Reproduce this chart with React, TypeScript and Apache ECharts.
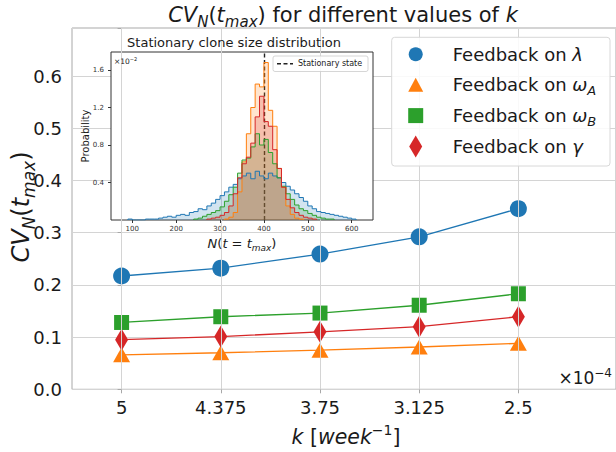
import React, { useEffect, useRef } from 'react';
import * as echarts from 'echarts';

const FONT = 'DejaVu Sans';

// Main chart data
const kLabels = ['5', '4.375', '3.75', '3.125', '2.5'];
const cvLambda = [0.217, 0.232, 0.259, 0.292, 0.346];
const cvOmegaA = [0.066, 0.07, 0.075, 0.081, 0.088];
const cvOmegaB = [0.128, 0.139, 0.146, 0.161, 0.183];
const cvGamma = [0.095, 0.101, 0.11, 0.12, 0.139];

// Inset histogram data (probability ×10^-2), bins of N
const histEdges = [
  80, 90, 100, 110, 120, 130, 140, 150, 160, 170, 180, 190, 200, 210, 220, 230, 240, 250, 260, 270,
  280, 290, 300, 310, 320, 330, 340, 350, 360, 370, 380, 390, 400, 410, 420, 430, 440, 450, 460, 470,
  480, 490, 500, 510, 520, 530, 540, 550, 560, 570, 580, 590, 600, 610, 620,
];
const histLambda = [
  0, 0.01, 0, 0, 0, 0.01, 0.01, 0.01, 0.02, 0.03,
  0.04, 0.03, 0.05, 0.06, 0.05, 0.08, 0.09, 0.12, 0.11, 0.15,
  0.18, 0.22, 0.26, 0.3, 0.35, 0.38, 0.44, 0.47, 0.5, 0.44,
  0.52, 0.47, 0.44, 0.5, 0.47, 0.45, 0.4, 0.36, 0.32, 0.28,
  0.24, 0.2, 0.15, 0.12, 0.09, 0.08, 0.07, 0.06, 0.05, 0.04,
  0.03, 0.02, 0.01, 0,
];
const histOmegaA = [
  0, 0, 0, 0, 0, 0, 0, 0, 0, 0,
  0, 0, 0, 0, 0, 0, 0, 0, 0, 0,
  0, 0, 0, 0.01, 0.03, 0.08, 0.3, 0.62, 0.92, 1.2,
  1.45, 1.42, 1.68, 1.17, 1.0, 0.55, 0.35, 0.15, 0.06, 0.02,
  0.01, 0, 0, 0, 0, 0, 0, 0, 0, 0,
  0, 0, 0, 0,
];
const histOmegaB = [
  0, 0, 0, 0, 0, 0, 0, 0, 0, 0,
  0, 0, 0, 0, 0, 0, 0.01, 0.02, 0.04, 0.06,
  0.08, 0.1, 0.14, 0.2, 0.27, 0.35, 0.5, 0.64, 0.66, 0.78,
  0.92, 0.8, 0.86, 0.72, 0.6, 0.45, 0.36, 0.28, 0.22, 0.16,
  0.12, 0.1, 0.07, 0.05, 0.03, 0.02, 0.01, 0.01, 0, 0,
  0, 0, 0, 0,
];
const histGamma = [
  0, 0, 0, 0, 0, 0, 0, 0, 0, 0,
  0, 0, 0, 0, 0, 0, 0, 0, 0, 0.01,
  0.02, 0.03, 0.05, 0.08, 0.15, 0.28, 0.45, 0.6, 0.67, 0.82,
  1.1, 1.32, 1.05, 1.0, 0.75, 0.55, 0.35, 0.22, 0.13, 0.08,
  0.05, 0.03, 0.02, 0.01, 0, 0, 0, 0, 0, 0,
  0, 0, 0, 0,
];
const insetXTicks = [100, 200, 300, 400, 500, 600];
const insetYTicks = [0.4, 0.8, 1.2, 1.6];
const stationaryState = 400;

const COLORS = ['#1f77b4', '#ff7f0e', '#2ca02c', '#d62728'];
const TXT = '#1a1a1a';

function stepPoints(edges: number[], vals: number[]) {
  let a = 0;
  while (a < vals.length && vals[a] === 0) a++;
  let b = vals.length - 1;
  while (b > a && vals[b] === 0) b--;
  const pts: number[][] = [[edges[a], 0]];
  for (let i = a; i <= b; i++) pts.push([edges[i], vals[i]]);
  pts.push([edges[b + 1], vals[b]]);
  pts.push([edges[b + 1], 0]);
  return pts;
}

function rich(size: number, color = TXT) {
  const lh = Math.round(size * 1.35);
  const sub = Math.round(size * 0.7);
  return {
    n: { fontSize: size, fontFamily: FONT, fill: color, color, lineHeight: lh, verticalAlign: 'middle' },
    i: { fontSize: size, fontFamily: FONT, fill: color, color, lineHeight: lh, verticalAlign: 'middle', fontStyle: 'italic' },
    sub: { fontSize: sub, fontFamily: FONT, fill: color, color, fontStyle: 'italic', verticalAlign: 'bottom' },
    sup: { fontSize: sub, fontFamily: FONT, fill: color, color, verticalAlign: 'top' },
  };
}

function txt(x: number, y: number, text: string, size: number, opts: any = {}) {
  return {
    type: 'text',
    x,
    y,
    rotation: opts.rotation || 0,
    z: 20,
    silent: true,
    style: {
      text,
      rich: rich(size, opts.color || TXT),
      fontSize: size,
      fontFamily: FONT,
      fill: opts.color || TXT,
      align: opts.align || 'center',
      verticalAlign: 'middle',
    },
  };
}

export default function App() {
  const ref = useRef<HTMLDivElement>(null);

  useEffect(() => {
    document.body.style.margin = '0';
    if (!ref.current) return;
    const chart = echarts.init(ref.current, undefined, { renderer: 'svg' });
    const kIdx = kLabels.map((_, i) => i);
    const pairs = (vals: number[]) => vals.map((v, i) => [kIdx[i], v]);

    const mainSeries = [
      { name: 'λ', data: cvLambda, symbol: 'circle', symbolSize: 17 },
      { name: 'ωA', data: cvOmegaA, symbol: 'triangle', symbolSize: [17, 15] },
      { name: 'ωB', data: cvOmegaB, symbol: 'rect', symbolSize: 15 },
      { name: 'γ', data: cvGamma, symbol: 'diamond', symbolSize: [13, 22] },
    ].map((s, i) => ({
      type: 'line',
      name: s.name,
      xAxisIndex: 0,
      yAxisIndex: 0,
      data: pairs(s.data),
      symbol: s.symbol,
      symbolSize: s.symbolSize,
      showSymbol: true,
      color: COLORS[i],
      itemStyle: { color: COLORS[i] },
      lineStyle: { color: COLORS[i], width: 1.3 },
      z: 2,
      silent: true,
    }));

    const hists = [histLambda, histOmegaA, histOmegaB, histGamma].map((h, i) => ({
      type: 'line',
      xAxisIndex: 1,
      yAxisIndex: 1,
      data: stepPoints(histEdges, h),
      step: 'end',
      symbol: 'none',
      lineStyle: { color: COLORS[i], width: 1 },
      areaStyle: { color: COLORS[i], opacity: 0.2 },
      z: 5,
      silent: true,
      ...(i === 3
        ? {
            markLine: {
              silent: true,
              symbol: 'none',
              label: { show: false },
              lineStyle: { color: '#222', type: [4, 2.5], width: 1.4 },
              data: [{ xAxis: stationaryState }],
            },
          }
        : {}),
    }));

    const legendRows = [
      '{n|Feedback on }{i|λ}',
      '{n|Feedback on }{i|ω}{sub|A}',
      '{n|Feedback on }{i|ω}{sub|B}',
      '{n|Feedback on }{i|γ}',
    ];
    const lx = 415.7;
    const ly = [54.3, 84.8, 115.6, 146.5];

    const option: any = {
      animation: false,
      backgroundColor: '#ffffff',
      grid: [
        { left: 72, top: 28, right: -2, bottom: 62.7, show: true, borderColor: '#a8a8a8', borderWidth: 1, backgroundColor: 'transparent', z: 0 },
        { left: 111, top: 52, width: 262, height: 168, show: true, borderColor: '#333', borderWidth: 1, backgroundColor: '#ffffff', z: 3 },
      ],
      xAxis: [
        {
          gridIndex: 0,
          type: 'value',
          min: -0.5,
          max: 4.984,
          splitLine: { show: false },
          axisLine: { show: false },
          axisTick: { show: true, customValues: kIdx, length: 4, lineStyle: { color: '#a8a8a8' } },
          axisLabel: {
            customValues: kIdx,
            formatter: (v: number) => kLabels[Math.round(v)],
            fontSize: 18,
            fontFamily: FONT,
            color: TXT,
            margin: 9,
          },
        },
        {
          gridIndex: 1,
          type: 'value',
          min: 51.5,
          max: 648.6,
          z: 4,
          splitLine: { show: false },
          axisLine: { show: false },
          axisTick: { show: true, customValues: insetXTicks, length: 3, lineStyle: { color: '#333' } },
          axisLabel: { customValues: insetXTicks, fontSize: 7, fontFamily: FONT, color: '#333', margin: 5 },
        },
      ],
      yAxis: [
        {
          gridIndex: 0,
          type: 'value',
          min: 0,
          max: 0.692,
          interval: 0.1,
          axisLine: { show: false },
          axisTick: { show: true, length: 4, lineStyle: { color: '#a8a8a8' } },
          splitLine: { show: true, lineStyle: { color: '#d4d4d4', width: 1 } },
          axisLabel: {
            formatter: (v: number) => (Math.abs(v * 10 - Math.round(v * 10)) < 1e-6 ? v.toFixed(1) : ''),
            fontSize: 18,
            fontFamily: FONT,
            color: TXT,
            margin: 10,
          },
        },
        {
          gridIndex: 1,
          type: 'value',
          min: 0,
          max: 1.792,
          z: 4,
          splitLine: { show: false },
          axisLine: { show: false },
          axisTick: { show: true, customValues: insetYTicks, length: 3, lineStyle: { color: '#333' } },
          axisLabel: {
            customValues: insetYTicks,
            formatter: (v: number) => v.toFixed(1),
            fontSize: 7,
            fontFamily: FONT,
            color: '#333',
            margin: 7,
          },
        },
      ],
      series: [
        {
          type: 'line',
          xAxisIndex: 0,
          yAxisIndex: 0,
          data: pairs(cvLambda),
          symbol: 'none',
          lineStyle: { opacity: 0 },
          silent: true,
          z: 1,
          markLine: {
            silent: true,
            symbol: 'none',
            label: { show: false },
            lineStyle: { color: '#d4d4d4', width: 1, type: 'solid' },
            data: kIdx.map((i) => ({ xAxis: i })),
          },
        },
        ...mainSeries,
        ...hists,
      ],
      graphic: [
        txt(343, 15, '{i|CV}{sub|N}{n|(}{i|t}{sub|max}{n|) for different values of }{i|k}', 21),
        txt(21, 207, '{i|CV}{sub|N}{n|(}{i|t}{sub|max}{n|)}', 24, { rotation: Math.PI / 2 }),
        txt(346, 437, '{i|k}{n| [}{i|week}{sup|−1}{n|]}', 20.5),
        txt(612, 378, '{n|×10}{sup|−4}', 17, { align: 'right' }),
        txt(234, 42, '{n|Stationary clone size distribution}', 13),
        txt(114, 61, '{n|×10}{sup|−2}', 7.5, { align: 'left' }),
        txt(242, 243, '{i|N}{n|(}{i|t}{n| = }{i|t}{sub|max}{n|)}', 13),
        txt(85, 136, '{n|Probability}', 10, { rotation: Math.PI / 2 }),
        // inset legend
        {
          type: 'rect',
          z: 20,
          silent: true,
          shape: { x: 273, y: 56, width: 95, height: 15.5, r: 2 },
          style: { fill: 'rgba(255,255,255,0.85)', stroke: '#cccccc', lineWidth: 0.8 },
        },
        {
          type: 'line',
          z: 21,
          silent: true,
          shape: { x1: 277, y1: 63.8, x2: 293, y2: 63.8 },
          style: { stroke: '#222', lineWidth: 1.4, lineDash: [4, 2.5] },
        },
        txt(298, 63.8, '{n|Stationary state}', 8, { align: 'left' }),
        // main legend
        {
          type: 'rect',
          z: 19,
          silent: true,
          shape: { x: 391.7, y: 37.3, width: 218.3, height: 128.7, r: 3 },
          style: { fill: 'rgba(255,255,255,0.85)', stroke: '#d8d8d8', lineWidth: 1 },
        },
        { type: 'circle', z: 21, silent: true, shape: { cx: lx, cy: ly[0], r: 7 }, style: { fill: COLORS[0] } },
        {
          type: 'polygon',
          z: 21,
          silent: true,
          shape: { points: [[lx, ly[1] - 7], [lx - 7.5, ly[1] + 7], [lx + 7.5, ly[1] + 7]] },
          style: { fill: COLORS[1] },
        },
        { type: 'rect', z: 21, silent: true, shape: { x: lx - 7.5, y: ly[2] - 7.5, width: 15, height: 15 }, style: { fill: COLORS[2] } },
        {
          type: 'polygon',
          z: 21,
          silent: true,
          shape: { points: [[lx, ly[3] - 11], [lx + 6.5, ly[3]], [lx, ly[3] + 11], [lx - 6.5, ly[3]]] },
          style: { fill: COLORS[3] },
        },
        ...legendRows.map((t, i) => txt(452.7, ly[i], t, 18, { align: 'left' })),
      ],
    };

    chart.setOption(option);
    return () => chart.dispose();
  }, []);

  return <div ref={ref} style={{ width: 616, height: 452 }} />;
}
